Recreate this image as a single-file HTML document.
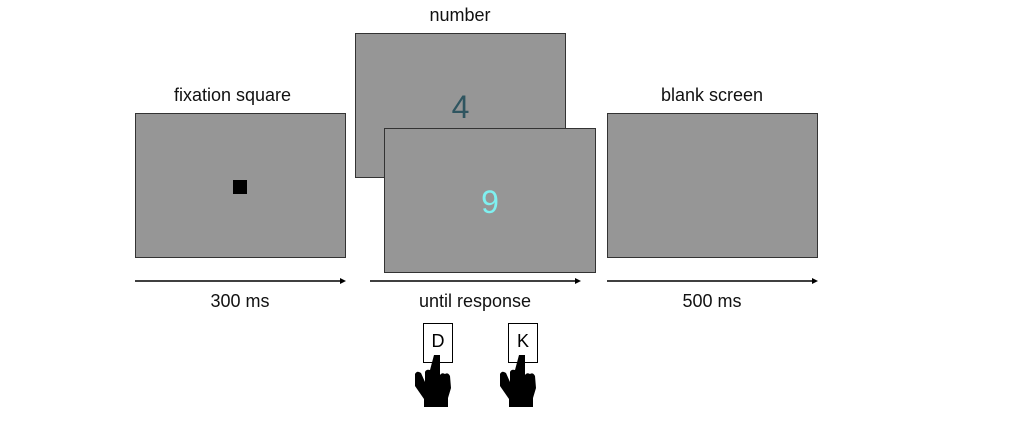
<!DOCTYPE html>
<html><head><style>
body{margin:0;background:#fff;width:1024px;height:424px;position:relative;overflow:hidden;font-family:"Liberation Sans",sans-serif;}
.b{position:absolute;background:#969696;border:1px solid #333;box-sizing:border-box;}
.t{position:absolute;font-size:18px;color:#111;text-align:center;}
.k{position:absolute;width:30px;height:40px;border:1.5px solid #000;box-sizing:border-box;background:#fff;font-size:18px;text-align:center;line-height:34px;}
</style></head><body>
<div class="t" style="left:135px;width:195px;top:85px">fixation square</div>
<div class="t" style="left:355px;width:210px;top:5px">number</div>
<div class="t" style="left:607px;width:210px;top:85px">blank screen</div>
<div class="b" style="left:135px;top:113px;width:211px;height:145px"></div>
<div style="position:absolute;left:233px;top:180px;width:14px;height:14px;background:#000"></div>
<div class="b" style="left:355px;top:33px;width:211px;height:145px"><div style="position:absolute;left:0;right:0;top:55px;text-align:center;font-size:32px;color:#2f5560">4</div></div>
<div class="b" style="left:384px;top:128px;width:212px;height:145px"><div style="position:absolute;left:0;right:0;top:55px;text-align:center;font-size:32px;color:#7ff0f0">9</div></div>
<div class="b" style="left:607px;top:113px;width:211px;height:145px"></div>
<svg width="1024" height="424" style="position:absolute;left:0;top:0">
<g stroke="#000" stroke-width="1.5">
<line x1="135" y1="281" x2="341" y2="281"/><line x1="370" y1="281" x2="576" y2="281"/><line x1="607" y1="281" x2="813" y2="281"/></g>
<g fill="#000"><path d="M346 281l-6-3v6z"/><path d="M581 281l-6-3v6z"/><path d="M818 281l-6-3v6z"/></g>
</svg>
<div class="t" style="left:135px;width:210px;top:291px">300 ms</div>
<div class="t" style="left:370px;width:210px;top:291px">until response</div>
<div class="t" style="left:607px;width:210px;top:291px">500 ms</div>
<div class="k" style="left:423px;top:323px">D</div>
<div class="k" style="left:508px;top:323px">K</div>
<svg width="1024" height="424" style="position:absolute;left:0;top:0">
<g fill="#000">
<path d="M434 355h6v20q2-3 5-1q3-2 5 2l1 12-3 10v9h-24v-8l-9-13v-12q2-4 6-1l4 9v-10q1-3 5-2z"/>
<path d="M519 355h6v20q2-3 5-1q3-2 5 2l1 12-3 10v9h-24v-8l-9-13v-12q2-4 6-1l4 9v-10q1-3 5-2z"/>
</g></svg>
</body></html>
